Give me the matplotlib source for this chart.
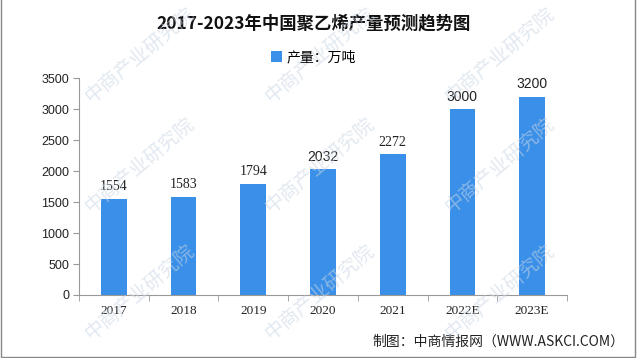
import matplotlib
matplotlib.use("Agg")
import matplotlib.pyplot as plt
from matplotlib.patches import Rectangle

plt.rcParams['font.family'] = ['Noto Sans CJK SC', 'DejaVu Sans']

categories = ["2017", "2018", "2019", "2020", "2021", "2022E", "2023E"]
values = [1554, 1583, 1794, 2032, 2272, 3000, 3200]
yticks = [0, 500, 1000, 1500, 2000, 2500, 3000, 3500]

title = "2017-2023年中国聚乙烯产量预测趋势图"
legend_label = "产量：万吨"
source = "制图：中商情报网（WWW.ASKCI.COM）"
watermark = "中商产业研究院"
bar_color = "#3A8FE8"

SERIF = ["Liberation Serif", "DejaVu Serif"]
SANS = ["Liberation Sans", "DejaVu Sans"]
label_fonts = [SERIF, SERIF, SERIF, SANS, SERIF, SANS, SANS]

fig = plt.figure(figsize=(6.4, 3.58), dpi=100)
fig.patch.set_facecolor("white")
ax = fig.add_axes([0.1234, 0.176, 0.7625, 0.605])

x = list(range(len(categories)))
bars = ax.bar(x, values, width=0.37, color=bar_color, label=legend_label, zorder=2)
for xi, v, fam in zip(x, values, label_fonts):
    ax.annotate(str(v), (xi, v), xytext=(0, 4), textcoords="offset points",
                ha="center", va="bottom", fontsize=10, family=fam, color="#222222")

ax.set_xlim(-0.5, len(categories) - 0.5)
ax.set_ylim(0, 3500)
ax.set_yticks(yticks)
ax.set_yticklabels([str(t) for t in yticks], fontsize=9,
                   family=SANS, color="#222222")
ax.set_xticks(x)
ax.set_xticklabels(categories, fontsize=9.5, family=SERIF, color="#222222")
ax.tick_params(axis="x", which="major", length=0, pad=7)
ax.set_xticks([i - 0.5 for i in range(len(categories) + 1)], minor=True)
ax.tick_params(axis="x", which="minor", length=4, color="#999999")
ax.tick_params(axis="y", length=4, color="#999999", pad=3)
for s in ["top", "right"]:
    ax.spines[s].set_visible(False)
for s in ["left", "bottom"]:
    ax.spines[s].set_color("#999999")
    ax.spines[s].set_linewidth(0.8)

fig.text(0.49, 0.935, title, ha="center", va="center", fontsize=12.5,
         fontweight="bold", color="#111111")
fig.legend(handles=[bars], labels=[legend_label], loc="center",
           bbox_to_anchor=(0.49, 0.84), frameon=False, fontsize=10,
           handlelength=0.8, handleheight=0.8, handletextpad=0.3)
fig.text(0.975, 0.045, source, ha="right", va="center", fontsize=10, color="#222222")

# faint diagonal watermark grid (kept inside the canvas)
for cy in [55, 165, 292]:
    for cx in [140, 320, 500]:
        fig.text(cx / 640, 1 - cy / 358, watermark, rotation=40, ha="center",
                 va="center", fontsize=14, color="#C9D6E4", alpha=0.55, zorder=5)

fig.patches.append(Rectangle((0.002, 0.004), 0.99, 1.2, transform=fig.transFigure,
                             fill=False, edgecolor="#888888", linewidth=1.0))

fig.savefig("out.png", dpi=100)
